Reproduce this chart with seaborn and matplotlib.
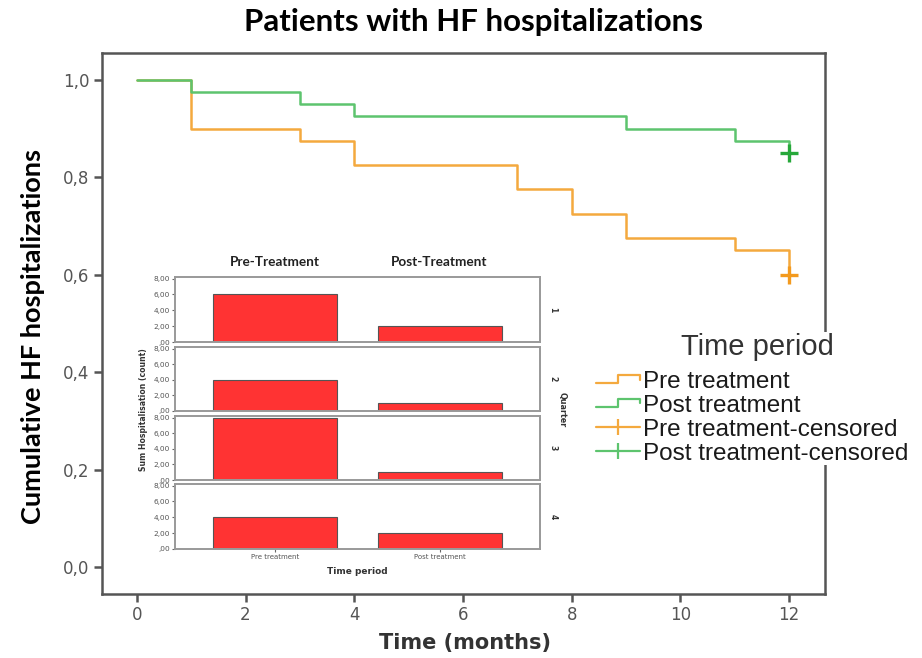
import matplotlib
matplotlib.use("Agg")
import matplotlib.pyplot as plt
from matplotlib.lines import Line2D
from matplotlib.patches import Rectangle
from matplotlib.legend_handler import HandlerBase
import pandas as pd
import seaborn as sns

# Cumulative proportion without HF hospitalization (step curves, months)
pre_time = [0, 1, 3, 4, 7, 8, 9, 11, 12]
pre_surv = [1.0, 0.90, 0.875, 0.825, 0.775, 0.725, 0.675, 0.65, 0.60]
post_time = [0, 1, 3, 4, 9, 11, 12]
post_surv = [1.0, 0.975, 0.95, 0.925, 0.90, 0.875, 0.85]

# Censored observations
censor_time = [12, 12]
censor_surv = [0.60, 0.85]
censor_group = ["Pre treatment-censored", "Post treatment-censored"]

x_ticks = [0, 2, 4, 6, 8, 10, 12]
y_ticks = [0.0, 0.2, 0.4, 0.6, 0.8, 1.0]
y_tick_labels = ["0,0", "0,2", "0,4", "0,6", "0,8", "1,0"]

# Quarterly hospitalisation counts (inset)
quarters = ["1", "2", "3", "4"]
periods = ["Pre treatment", "Post treatment"]
pre_counts = [6, 4, 8, 4]
post_counts = [2, 1, 1, 2]
bar_ticks = [0, 2, 4, 6, 8]
bar_tick_labels = [",00", "2,00", "4,00", "6,00", "8,00"]

ORANGE = "#F4A93E"
GREEN = "#5DC46E"
ORANGE_MK = "#F39A1E"
GREEN_MK = "#27A83A"
RED = "#FF3333"

sns.set_theme(style="white")
plt.rcParams["font.family"] = ["DejaVu Sans"]

W, H = 922, 658
fig = plt.figure(figsize=(W / 100, H / 100), dpi=100)
fig.patch.set_facecolor("white")


def rect(l, t, r, b):
    return [l / W, 1 - b / H, (r - l) / W, (b - t) / H]


# ---- main step chart ----
ax = fig.add_axes(rect(102, 53, 825, 594))
km = pd.concat([
    pd.DataFrame({"time": pre_time, "surv": pre_surv, "group": "Pre treatment"}),
    pd.DataFrame({"time": post_time, "surv": post_surv, "group": "Post treatment"}),
])
sns.lineplot(data=km, x="time", y="surv", hue="group",
             palette={"Pre treatment": ORANGE, "Post treatment": GREEN},
             drawstyle="steps-post", estimator=None, sort=False,
             legend=False, linewidth=1.8, ax=ax)
cens = pd.DataFrame({"time": censor_time, "surv": censor_surv, "group": censor_group})
sns.scatterplot(data=cens, x="time", y="surv", hue="group",
                palette={"Pre treatment-censored": ORANGE_MK,
                         "Post treatment-censored": GREEN_MK},
                marker="+", s=170, linewidth=2.4, legend=False, ax=ax, zorder=5)

ax.set_xlim(-0.64, 12.66)
ax.set_ylim(-0.055, 1.055)
ax.set_xticks(x_ticks)
ax.set_xticklabels([str(t) for t in x_ticks])
ax.set_yticks(y_ticks)
ax.set_yticklabels(y_tick_labels)
ax.set_xlabel("")
ax.set_ylabel("")
for s in ax.spines.values():
    s.set_color("#555555")
    s.set_linewidth(1.8)
ax.tick_params(axis="both", which="both", direction="out", length=6, width=1.8,
               color="#555555", labelsize=12, labelcolor="#555555", pad=3,
               bottom=True, left=True, top=False, right=False)

fig.text(473 / W, 1 - 22 / H, "Patients with HF hospitalizations",
         ha="center", va="center", fontsize=22.5, fontweight="bold",
         family=["Lato", "DejaVu Sans"], color="black")
fig.text(33 / W, 1 - 336 / H, "Cumulative HF hospitalizations",
         ha="center", va="center", rotation=90, fontsize=19.5, fontweight="bold",
         family=["Lato", "DejaVu Sans"], color="black")
fig.text(465 / W, 1 - 643 / H, "Time (months)", ha="center", va="center",
         fontsize=15, fontweight="bold", color="#333333")

# ---- inset: quarterly hospitalisations ----
panel_tops = [277, 347, 416, 484]
panel_bottoms = [342, 411, 480, 549]
for i, q in enumerate(quarters):
    axi = fig.add_axes(rect(175, panel_tops[i], 540, panel_bottoms[i]))
    axi.set_facecolor("white")
    sns.barplot(x=periods, y=[pre_counts[i], post_counts[i]], order=periods,
                color=RED, saturation=1, edgecolor="#555555", linewidth=0.8,
                width=0.756, ax=axi)
    axi.set_xlim(-0.61, 1.61)
    axi.set_ylim(0, 8.2)
    axi.set_yticks(bar_ticks)
    axi.set_yticklabels(bar_tick_labels)
    axi.set_xlabel("")
    axi.set_ylabel("")
    for s in axi.spines.values():
        s.set_color("#999999")
        s.set_linewidth(1.4)
    axi.tick_params(axis="y", direction="out", length=2.5, width=0.8,
                    color="#666666", labelsize=5.3, labelcolor="#555555", pad=1,
                    left=True)
    if i == len(quarters) - 1:
        axi.tick_params(axis="x", direction="out", length=2.5, width=0.8,
                        color="#666666", labelsize=5, labelcolor="#555555",
                        pad=1, bottom=True)
    else:
        axi.tick_params(axis="x", bottom=False, labelbottom=False)
    axi.text(1.035, 0.5, q, transform=axi.transAxes, rotation=-90,
             ha="center", va="center", fontsize=5.5, fontweight="bold", color="#333333")

fig.text(275 / W, 1 - 262 / H, "Pre-Treatment", ha="center", va="center",
         fontsize=9.8, fontweight="bold", family=["Lato", "DejaVu Sans"], color="#222222")
fig.text(439 / W, 1 - 262 / H, "Post-Treatment", ha="center", va="center",
         fontsize=9.8, fontweight="bold", family=["Lato", "DejaVu Sans"], color="#222222")
fig.text(143 / W, 1 - 410 / H, "Sum Hospitalisation (count)", ha="center", va="center",
         rotation=90, fontsize=5.6, fontweight="bold", color="#333333")
fig.text(562 / W, 1 - 410 / H, "Quarter", ha="center", va="center",
         rotation=-90, fontsize=5.8, fontweight="bold", color="#333333")
fig.text(357 / W, 1 - 572 / H, "Time period", ha="center", va="center",
         fontsize=6.5, fontweight="bold", color="#333333")


# ---- legend ----
class StepHandler(HandlerBase):
    def create_artists(self, legend, orig_handle, xdescent, ydescent,
                       width, height, fontsize, trans):
        y0 = height / 2 - ydescent
        lo, hi = y0 - height * 0.22, y0 + height * 0.28
        xm = width * 0.5 - xdescent
        line = Line2D([-xdescent, xm, xm, width - xdescent, width - xdescent],
                      [lo, lo, hi, hi, y0],
                      color=orig_handle.get_color(), linewidth=1.6)
        line.set_transform(trans)
        return [line]


# white panel behind the legend block
fig.patches.append(Rectangle((588 / W, 1 - 465 / H), (W - 588) / W, 133 / H,
                             transform=fig.transFigure, facecolor="white",
                             edgecolor="none", zorder=3))
fig.text(757 / W, 1 - 347 / H, "Time period", ha="center", va="center",
         fontsize=21, family=["Liberation Sans", "DejaVu Sans"],
         color="#333333", zorder=6)

h_pre = Line2D([], [], color=ORANGE)
h_post = Line2D([], [], color=GREEN)
h_pre_c = Line2D([], [], color=ORANGE, marker="|", markersize=12,
                 markeredgewidth=1.6, linewidth=1.6)
h_post_c = Line2D([], [], color=GREEN, marker="|", markersize=12,
                  markeredgewidth=1.6, linewidth=1.6)
leg = fig.legend([h_pre, h_post, h_pre_c, h_post_c],
                 ["Pre treatment", "Post treatment",
                  "Pre treatment-censored", "Post treatment-censored"],
                 handler_map={h_pre: StepHandler(), h_post: StepHandler()},
                 loc="upper left", bbox_to_anchor=(596 / W, 1 - 371 / H),
                 frameon=False,
                 prop={"family": "Liberation Sans", "size": 17.5},
                 handlelength=1.82, handletextpad=0.11, labelspacing=0.075,
                 borderpad=0, borderaxespad=0, numpoints=1)
leg.set_zorder(6)
for t in leg.get_texts():
    t.set_color("#1a1a1a")

fig.savefig("out.png", dpi=100, facecolor="white")
